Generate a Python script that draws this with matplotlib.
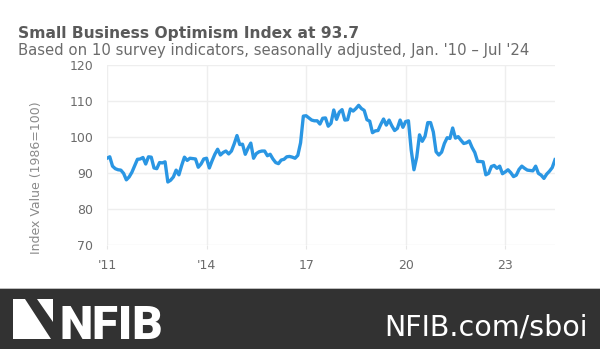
import numpy as np
import matplotlib
matplotlib.use("Agg")
import matplotlib.pyplot as plt
from matplotlib.patches import Rectangle, Polygon

# monthly index values, Jan 2011 - Jul 2024
start_year = 2011
index_values = [
    94.1, 94.5, 91.9, 91.2, 90.9, 90.8, 89.9, 88.1, 88.9, 90.2, 92.0, 93.8,   # 2011
    93.9, 94.3, 92.5, 94.5, 94.4, 91.4, 91.2, 92.9, 92.8, 93.1, 87.5, 88.0,   # 2012
    88.9, 90.8, 89.5, 92.1, 94.4, 93.5, 94.1, 94.0, 93.9, 91.6, 92.5, 93.9,   # 2013
    94.1, 91.4, 93.4, 95.2, 96.6, 95.0, 95.7, 96.1, 95.3, 96.1, 98.1, 100.4,  # 2014
    97.9, 98.0, 95.2, 96.9, 98.3, 94.1, 95.4, 95.9, 96.1, 96.1, 94.8, 95.2,   # 2015
    93.9, 92.9, 92.6, 93.6, 93.8, 94.5, 94.6, 94.4, 94.1, 94.9, 98.4, 105.8,  # 2016
    105.9, 105.3, 104.7, 104.5, 104.5, 103.6, 105.2, 105.3, 103.0, 103.8, 107.5, 104.9,  # 2017
    106.9, 107.6, 104.7, 104.8, 107.8, 107.2, 107.9, 108.8, 107.9, 107.4, 104.8, 104.4,  # 2018
    101.2, 101.7, 101.8, 103.5, 105.0, 103.3, 104.7, 103.1, 101.8, 102.4, 104.7, 102.7,  # 2019
    104.3, 104.5, 96.4, 90.9, 94.4, 100.6, 98.8, 100.2, 104.0, 104.0, 101.4, 95.9,  # 2020
    95.0, 95.8, 98.2, 99.8, 99.6, 102.5, 99.7, 100.1, 99.1, 98.2, 98.4, 98.9,  # 2021
    97.1, 95.7, 93.2, 93.2, 93.1, 89.5, 89.9, 91.8, 92.1, 91.3, 91.9, 89.8,   # 2022
    90.3, 90.9, 90.1, 89.0, 89.4, 91.0, 91.9, 91.3, 90.8, 90.7, 90.6, 91.9,   # 2023
    89.9, 89.4, 88.5, 89.7, 90.5, 91.5, 93.7,                                 # 2024
]
months = start_year + np.arange(len(index_values)) / 12

tick_years = [2011, 2014, 2017, 2020, 2023]
tick_labels = ["'11", "'14", "17", "20", "23"]
y_ticks = [70, 80, 90, 100, 110, 120]

W, H = 600, 349
fig = plt.figure(figsize=(W / 100, H / 100), dpi=100)


def fx(px):
    return px / W


def fy(py):
    return 1 - py / H


ax = fig.add_axes([fx(107), fy(245), fx(555) - fx(107), fy(65) - fy(245)])
ax.plot(months, index_values, color="#2a96e3", lw=2.4, solid_joinstyle="round", zorder=3)

ax.set_xlim(2011, 2024.5)
ax.set_ylim(70, 120)
ax.set_xticks(tick_years)
ax.set_xticklabels(tick_labels)
ax.set_yticks(y_ticks)
ax.grid(True, color="#eeeeee", lw=1)
for s in ax.spines.values():
    s.set_visible(False)
ax.tick_params(axis="x", length=3, color="#e6e6e6", pad=7, labelsize=9, labelcolor="#6b6b6b")
ax.tick_params(axis="y", length=0, pad=10, labelsize=9, labelcolor="#6b6b6b")

fig.text(fx(37), fy(178), "Index Value (1986=100)", rotation=90, ha="center", va="center",
         fontsize=9, color="#8a8a8a")

# titles
fig.text(fx(18), fy(38), "Small Business Optimism Index at 93.7", fontsize=11.2,
         fontweight="bold", color="#5a5a5a", va="baseline")
fig.text(fx(18), fy(55), "Based on 10 survey indicators, seasonally adjusted, Jan. '10 \u2013 Jul '24",
         fontsize=10.7, color="#6b6b6b", va="baseline")

# footer band
fig.patches.append(Rectangle((0, 0), 1, fy(289), transform=fig.transFigure,
                             facecolor="#323232", edgecolor="none"))
fig.patches.append(Rectangle((0, fy(289)), 1, 1.5 / H, transform=fig.transFigure,
                             facecolor="#bdbdbd", edgecolor="none"))

# logo triangles
pts1 = [(13, 299), (25, 299), (51, 339), (13, 339)]
pts2 = [(37, 299), (53, 299), (53, 322)]
for pts in (pts1, pts2):
    fig.patches.append(Polygon([(fx(a), fy(b)) for a, b in pts], closed=True,
                               transform=fig.transFigure, facecolor="white", edgecolor="none"))

fig.text(fx(59), fy(339), "NFIB", fontsize=34, fontweight="black", color="white",
         family=["Roboto", "DejaVu Sans"], va="baseline")
fig.text(fx(588), fy(335), "NFIB.com/sboi", fontsize=20.5, color="white",
         ha="right", va="baseline")

fig.savefig("out.png", dpi=100)
